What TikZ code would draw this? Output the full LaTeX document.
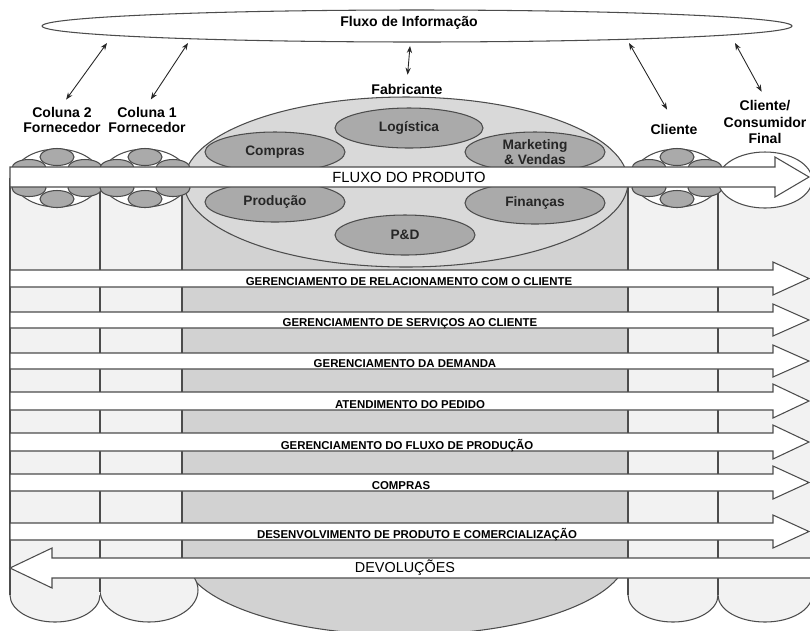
\documentclass[tikz,border=0pt]{standalone}
\usepackage{fontspec}
\setmainfont{Liberation Sans}
\usetikzlibrary{shapes.geometric,arrows.meta}

\tikzset{
  edge/.style={draw=black!70, line width=0.6pt},
  band/.style={edge, fill=white},
  cell/.style={fill=gray!10},
  dept/.style={ellipse, edge, fill=gray!67, minimum width=2.8cm, minimum height=0.8cm,
    inner sep=0pt, align=center, text=black!85, font=\bfseries\fontsize{7.8}{9}\selectfont},
  tag/.style={align=center, inner sep=1pt, font=\bfseries\fontsize{8}{8.5}\selectfont},
  proc/.style={anchor=base, inner sep=0pt, font=\bfseries\fontsize{6.5}{7}\selectfont},
  link/.style={{Stealth[length=4pt,width=3pt]}-{Stealth[length=4pt,width=3pt]}, line width=0.5pt, black!85},
}

\begin{document}
\begin{tikzpicture}[x=0.02cm, y=-0.02cm]
  \useasboundingbox (0,0) rectangle (810,630);
  \clip (0,0) rectangle (810,630);
  \fill[white] (0,0) rectangle (810,630);

  % Fabricante column
  \draw[edge, fill=gray!35] (405,555) ellipse [x radius=222, y radius=80];
  \fill[gray!35] (182,182) rectangle (628,560);
  \draw[edge, fill=gray!30] (406,182) ellipse [x radius=222, y radius=85];

  % Departments
  \node[dept, minimum width=2.96cm] (log) at (409,128) {Log\'istica};
  \node[dept] (comp) at (275,152) {Compras};
  \node[dept] (mkt) at (535,152) {Marketing\\\& Vendas};
  \node[dept] (prod) at (275,202) {Produ\c{c}\~ao};
  \node[dept, minimum height=0.84cm] (fina) at (535,203) {Finan\c{c}as};
  \node[dept] (pd) at (405,235) {P\&D};

  % Light columns with round bottoms
  \draw[edge, cell] (55,595) ellipse [x radius=45, y radius=27];
  \draw[edge, cell] (149,590) ellipse [x radius=49, y radius=32];
  \draw[edge, cell] (673,595) ellipse [x radius=45, y radius=27];
  \draw[edge, cell] (765,595) ellipse [x radius=47, y radius=27];
  \fill[cell] (10,178) rectangle (100,595);
  \fill[cell] (100,178) rectangle (182,590);
  \fill[cell] (628,178) rectangle (718,595);
  \fill[cell] (718,178) rectangle (820,595);
  \draw[edge] (10,178) -- (10,595);
  \draw[edge] (100,178) -- (100,592);
  \draw[edge] (182,187) -- (182,578);
  \draw[edge] (628,178) -- (628,595);
  \draw[edge] (718,178) -- (718,595);

  % Column tops
  \foreach \cx in {57,145,677} {
    \draw[edge, fill=white] (\cx,178) ellipse [x radius=44, y radius=29];
    \foreach \dx/\dy in {0/-21,0/21,-28/-10,28/-10,-28/10,28/10}
      \draw[edge, fill=gray!67] (\cx+\dx,178+\dy) ellipse [x radius=17, y radius=8.5];
  }
  \draw[edge, fill=white] (765,180) ellipse [x radius=47, y radius=28];

  % Product flow
  \draw[band] (10,167) -- (775,167) -- (775,157) -- (809,177) -- (775,197) -- (775,187) -- (10,187) -- cycle;
  \node[font=\fontsize{8.4}{9}\selectfont, inner sep=0pt] (flow) at (409,177) {FLUXO DO PRODUTO};

  % Processes
  \foreach \yt/\yb/\lx/\txt [count=\i] in {
      270/287/409/{GERENCIAMENTO DE RELACIONAMENTO COM O CLIENTE},
      312/328/410/{GERENCIAMENTO DE SERVIÇOS AO CLIENTE},
      353/369/405/{GERENCIAMENTO DA DEMANDA},
      392/410/410/{ATENDIMENTO DO PEDIDO},
      433/451/407/{GERENCIAMENTO DO FLUXO DE PRODUÇÃO},
      474/491/401/{COMPRAS},
      523/540/417/{DESENVOLVIMENTO DE PRODUTO E COMERCIALIZAÇÃO}} {
    \pgfmathsetmacro\ym{(\yt+\yb)/2}
    \draw[band] (10,\yt) -- (773,\yt) -- (773,\yt-8) -- (809,\ym) -- (773,\yb+8) -- (773,\yb) -- (10,\yb) -- cycle;
    \node[proc] (p\i) at (\lx,\yb-1.5) {\txt};
  }

  % Returns
  \draw[band] (830,558) -- (52,558) -- (52,548) -- (10,568) -- (52,588) -- (52,578) -- (830,578) -- cycle;
  \node[font=\fontsize{8.2}{9}\selectfont, inner sep=0pt] (ret) at (405,568) {DEVOLUÇÕES};

  % Information flow
  \node[ellipse, edge, fill=white, minimum width=15cm, minimum height=0.64cm, inner sep=0pt] (info) at (417,26) {};
  \node[tag] (infot) at (409,23) {Fluxo de Informação};

  \node[tag] (col2) at (62,120) {Coluna 2\\Fornecedor};
  \node[tag] (col1) at (147,120) {Coluna 1\\Fornecedor};
  \node[tag] (fab) at (407,89) {Fabricante};
  \node[tag] (cli) at (674,129) {Cliente};
  \node[tag, font=\bfseries\fontsize{8}{9.6}\selectfont] (fin) at (765,122) {Cliente/\\Consumidor\\Final};

  \coordinate (a2) at (107,43);
  \coordinate (a1) at (188,43);
  \coordinate (af) at (410,46);
  \coordinate (ac) at (629,43);
  \coordinate (an) at (735,43);
  \draw[link, shorten >=4pt] (a2) -- (col2.north);
  \draw[link, shorten >=4pt] (a1) -- (col1.north);
  \draw[link, shorten >=4pt] (af) -- (fab.north);
  \draw[link, shorten >=8pt] (ac) -- (cli.north);
  \draw[link, shorten >=4pt] (an) -- (fin.north);
\end{tikzpicture}
\end{document}
